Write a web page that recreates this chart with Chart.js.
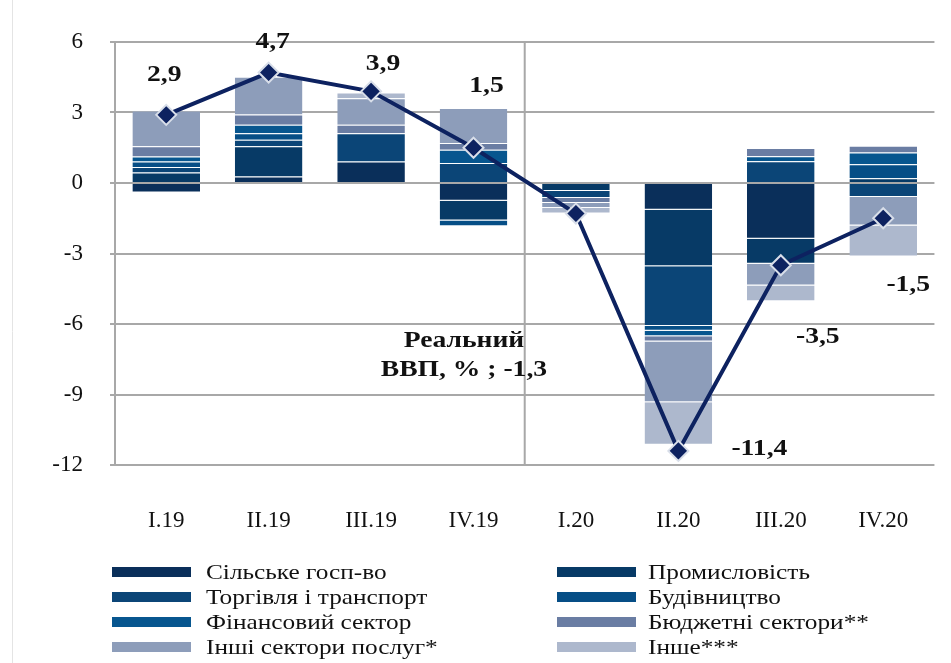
<!DOCTYPE html>
<html>
<head>
<meta charset="utf-8">
<script src="https://cdn.jsdelivr.net/npm/chart.js@4.4.1/dist/chart.umd.min.js"></script>
<style>
  body { margin: 0; background: #fff; }
  #wrap { width: 951px; height: 663px; position: relative; }
</style>
</head>
<body>
<div id="wrap"><canvas id="chart" width="951" height="663"></canvas></div>
<script>
// quarters and sector contributions (p.p.)
const quarters = ['I.19', 'II.19', 'III.19', 'IV.19', 'I.20', 'II.20', 'III.20', 'IV.20'];
const sectorNames = ['Сільське госп-во', 'Промисловість', 'Торгівля і транспорт', 'Будівництво',
    'Фінансовий сектор', 'Бюджетні сектори**', 'Інші сектори послуг*', 'Інше***'];
const agriculture   = [-0.40, 0.28, 0.92, -0.75, null, -1.14, -2.37, null];
const industry      = [0.45, 1.28, null, -0.85, -0.34, -2.40, -1.07, 0.20];
const trade         = [0.23, 0.28, 1.20, 0.85, -0.30, -2.55, 0.93, -0.60];
const construction  = [0.24, 0.28, null, -0.24, null, -0.20, null, 0.60];
const finance       = [0.21, 0.36, null, 0.57, null, -0.23, 0.21, 0.50];
const budget        = [0.43, 0.44, 0.36, 0.28, -0.21, -0.22, 0.35, 0.28];
const otherServices = [1.52, 1.60, 1.13, 1.49, -0.21, -2.59, -0.92, -1.21];
const otherSectors  = [null, null, 0.24, null, -0.24, -1.81, -0.67, -1.32];
const gdp = [2.9, 4.7, 3.9, 1.5, -1.3, -11.4, -3.5, -1.5];
const gdpLabels = ['2,9', '4,7', '3,9', '1,5', 'Реальний\nВВП, % ; -1,3', '-11,4', '-3,5', '-1,5'];
const yMin = -12, yMax = 6, yStep = 3;

const sectorValues = [agriculture, industry, trade, construction, finance, budget, otherServices, otherSectors];
const sectorColors = ['#0a2f5a', '#073a66', '#0b4577', '#064e86', '#07568f', '#6a7da3', '#8d9dba', '#adb8cd'];
// label offsets from each diamond, px
const labelShift = [[-2, -40], [4, -31], [12, -28], [13, -62], [-112, 127], [81, -2], [37, 72], [25, 67]];

const FONT = "'Liberation Serif', 'Times New Roman', serif";
const gridColor = '#a8a8a8';

function stretchedText(ctx, txt, x, y, sx, align) {
    ctx.save();
    ctx.translate(x, y);
    ctx.scale(sx, 1);
    ctx.textAlign = align;
    ctx.fillText(txt, 0, 0);
    ctx.restore();
}

const decor = {
    id: 'decor',
    beforeDatasetsDraw(chart) {
        const {ctx, chartArea, scales} = chart;
        const xs = scales.x;
        const sepX = (xs.getPixelForValue(3) + xs.getPixelForValue(4)) / 2;
        ctx.save();
        ctx.strokeStyle = gridColor;
        ctx.lineWidth = 2;
        ctx.beginPath();
        ctx.moveTo(sepX, chartArea.top);
        ctx.lineTo(sepX, chartArea.bottom);
        ctx.stroke();
        ctx.strokeStyle = '#e4e4e4';
        ctx.lineWidth = 1;
        ctx.beginPath();
        ctx.moveTo(12.5, 0);
        ctx.lineTo(12.5, chart.height);
        ctx.stroke();
        ctx.restore();
    },
    afterDraw(chart) {
        const ctx = chart.ctx;
        // data labels for GDP line
        const meta = chart.getDatasetMeta(chart.data.datasets.length - 1);
        ctx.save();
        ctx.fillStyle = '#111';
        ctx.font = 'bold 24px ' + FONT;
        ctx.textBaseline = 'middle';
        meta.data.forEach((pt, i) => {
            const lines = gdpLabels[i].split('\n');
            lines.forEach((ln, k) => {
                stretchedText(ctx, ln, pt.x + labelShift[i][0], pt.y + labelShift[i][1] + k * 29, 1.15, 'center');
            });
        });
        // legend, two columns
        ctx.font = '22px ' + FONT;
        const colSw = [112, 557], colTx = [206, 648];
        sectorNames.forEach((name, i) => {
            const col = i % 2, row = Math.floor(i / 2);
            const y = 572 + row * 25;
            ctx.fillStyle = sectorColors[i];
            ctx.fillRect(colSw[col], y - 5, 79, 10);
            ctx.fillStyle = '#111';
            stretchedText(ctx, name, colTx[col], y + 1, 1.15, 'left');
        });
        ctx.restore();
    }
};

const datasets = sectorNames.map((name, i) => ({
    type: 'bar',
    label: name,
    data: sectorValues[i],
    backgroundColor: sectorColors[i],
    borderColor: 'rgba(255,255,255,0.35)',
    borderWidth: {top: 1, bottom: 1, left: 0, right: 0},
    borderSkipped: 'start',
    barPercentage: 0.66,
    categoryPercentage: 1,
    order: 2
}));
datasets.push({
    type: 'line',
    label: 'Реальний ВВП, %',
    data: gdp,
    borderColor: '#0d2260',
    borderWidth: 4,
    tension: 0,
    pointStyle: 'rectRot',
    pointRadius: 10,
    pointBackgroundColor: '#0d2260',
    pointBorderColor: '#d8dee9',
    pointBorderWidth: 2,
    order: 1
});

new Chart(document.getElementById('chart').getContext('2d'), {
    data: {labels: quarters, datasets: datasets},
    plugins: [decor],
    options: {
        responsive: false,
        animation: false,
        events: [],
        layout: {padding: {top: 42, right: 0, bottom: 0, left: 0}},
        scales: {
            x: {
                stacked: true,
                grid: {display: false, drawTicks: false},
                border: {display: false},
                ticks: {color: '#111', font: {family: FONT, size: 23}, padding: 42, maxRotation: 0},
                afterFit(scale) { scale.height = 198; }
            },
            y: {
                stacked: true,
                min: yMin,
                max: yMax,
                ticks: {stepSize: yStep, color: '#111', font: {family: FONT, size: 23}, padding: 27},
                grid: {color: gridColor, lineWidth: 2, tickLength: 5},
                border: {color: gridColor, width: 2},
                afterFit(scale) { scale.width = 115; }
            }
        },
        plugins: {
            legend: {display: false},
            tooltip: {enabled: false}
        }
    }
});
</script>
</body>
</html>
